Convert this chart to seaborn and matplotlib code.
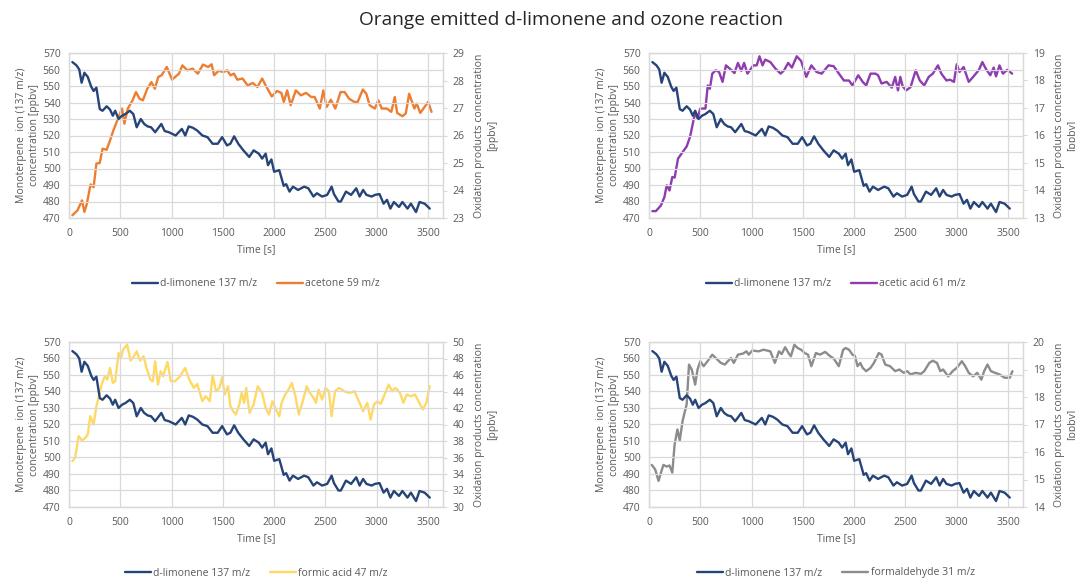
import matplotlib
matplotlib.use("Agg")
import matplotlib.pyplot as plt
import seaborn as sns
import pandas as pd

# ---------------- data ----------------
limonene_t = [33,73,100,123,150,183,217,240,267,300,
              327,367,400,427,450,483,517,550,593,627,
              660,700,733,767,800,840,900,933,973,1040,
              1100,1133,1167,1207,1250,1300,1350,1400,1450,1493,
              1540,1573,1610,1650,1700,1757,1800,1850,1883,1917,
              1940,1973,2000,2050,2093,2117,2150,2183,2233,2293,
              2333,2383,2417,2467,2517,2560,2583,2627,2650,2700,
              2750,2800,2833,2867,2900,2950,2983,3027,3067,3100,
              3133,3167,3217,3250,3300,3333,3383,3417,3467,3517]
limonene_v = [564.5,562.5,560,552,558,555.5,549.5,547,549,536,
              535,537.7,535.7,532,535,530,532,533,535,533,
              525,530,527,525.5,525,522,527,522.7,522,520,
              524,520,525.5,524.7,523,520,519,515,515,519,
              514,515,519.5,515,511,507,511,509,506,509,
              502,505.5,498,499,489.5,490.5,486,489,487,489,
              488,483,485,483,484,489,484.5,480,480,486,
              484,488,483,487,484,483,484,484.5,478.7,481,
              475.7,479.7,476.7,479.7,475.7,478.7,473.6,479.7,478.7,475.7]

acetone_t = [33,83,127,150,173,210,240,267,300,327,
             367,400,433,483,517,540,573,620,653,687,
             720,763,803,837,870,903,953,1005,1072,1105,
             1155,1205,1256,1306,1357,1390,1415,1457,1507,1541,
             1575,1608,1641,1692,1742,1792,1836,1883,1926,1977,
             2027,2070,2094,2127,2161,2211,2261,2311,2362,2395,
             2445,2479,2512,2553,2596,2647,2687,2730,2781,2814,
             2864,2898,2931,2982,3015,3049,3099,3142,3176,3199,
             3250,3283,3316,3367,3390,3424,3467,3501,3534]
acetone_v = [23.1,23.28,23.64,23.22,23.5,24.22,24.12,24.98,25.0,25.52,
             25.48,25.82,26.19,26.67,26.98,26.43,26.98,27.28,27.58,27.34,
             27.28,27.7,27.94,27.7,28.13,28.19,28.49,28.03,28.25,28.55,
             28.37,28.43,28.25,28.58,28.49,28.59,28.19,28.35,28.31,28.37,
             28.19,28.25,28.03,28.07,27.82,27.91,27.76,28.07,27.76,27.42,
             27.62,27.55,27.22,27.64,27.1,27.64,27.46,27.55,27.4,27.4,
             26.98,27.64,27.04,27.3,26.98,27.58,27.58,27.34,27.22,27.22,
             27.67,27.52,27.1,26.98,27.28,26.98,26.98,26.86,27.4,26.82,
             26.7,26.8,27.52,26.98,27.16,26.82,27.04,27.22,26.86]

acetic_t = [33,67,117,150,173,200,227,250,283,317,
            340,367,400,427,450,473,500,550,573,593,
            617,650,683,717,750,800,833,867,900,927,
            960,1017,1050,1077,1107,1133,1183,1233,1283,1317,
            1357,1393,1440,1483,1533,1583,1633,1683,1750,1800,
            1840,1900,1950,1983,2040,2083,2117,2160,2207,2233,
            2267,2317,2367,2400,2427,2450,2473,2507,2550,2600,
            2640,2683,2727,2767,2817,2850,2900,2933,2973,3000,
            3027,3067,3117,3160,3217,3250,3283,3327,3360,3383,
            3417,3450,3493,3540]
acetic_v = [13.25,13.25,13.46,13.76,14.19,14.0,14.49,14.47,15.16,15.34,
            15.46,15.6,15.95,16.43,16.85,16.61,16.98,16.98,17.82,17.7,
            18.25,18.37,18.31,17.95,18.55,18.39,18.27,18.64,18.35,18.64,
            18.25,18.55,18.55,18.88,18.55,18.76,18.67,18.43,18.25,18.37,
            18.64,18.47,18.88,18.71,18.13,18.55,18.31,18.25,18.55,18.52,
            18.31,18.0,18.0,17.82,18.19,17.95,17.82,18.25,18.25,18.19,
            17.89,17.95,17.74,18.13,17.64,18.13,17.79,17.64,17.76,18.37,
            18.0,17.82,18.13,18.25,18.55,18.25,18.0,18.03,17.95,18.59,
            18.31,18.49,17.95,18.13,18.39,18.67,18.43,18.19,18.47,18.15,
            18.55,18.25,18.39,18.25]

formic_t = [33,60,93,127,160,183,207,240,267,293,
            317,350,373,400,427,450,483,507,527,567,
            600,633,660,693,727,760,793,817,840,867,
            893,917,960,993,1033,1083,1133,1173,1217,1250,
            1300,1333,1373,1400,1433,1467,1493,1517,1550,1573,
            1600,1627,1660,1683,1707,1727,1760,1800,1840,1883,
            1917,1950,1983,2017,2050,2073,2107,2140,2173,2207,
            2240,2283,2317,2350,2383,2407,2433,2467,2500,2533,
            2560,2593,2633,2683,2733,2783,2833,2867,2907,2940,
            2973,3007,3040,3083,3117,3150,3183,3227,3260,3293,
            3333,3373,3407,3450,3483,3517]
formic_v = [35.56,35.97,38.59,38.06,38.39,38.79,41.0,40.0,42.22,43.43,
            44.84,45.85,45.44,46.85,45.04,45.24,48.67,48.06,49.07,49.68,
            47.74,48.27,48.87,47.74,48.27,46.65,45.44,45.24,47.66,44.84,
            46.45,45.85,47.58,45.24,45.24,45.85,46.85,45.44,44.44,44.92,
            42.82,43.43,42.82,45.97,44.03,44.44,45.73,43.63,44.64,42.22,
            41.61,41.21,42.42,43.83,42.62,44.44,41.41,42.42,44.64,43.83,
            42.02,41.21,42.82,41.81,41.0,42.62,43.63,44.23,45.04,43.43,
            41.21,43.02,44.64,43.83,43.23,42.62,44.23,43.02,44.44,44.03,
            41.0,44.03,44.44,44.03,43.83,44.03,42.62,41.61,42.62,40.6,
            42.42,42.82,42.5,43.83,44.84,44.03,44.44,43.83,42.62,43.63,
            43.43,43.63,42.82,41.81,42.62,44.64]

formaldehyde_t = [27,60,93,117,140,173,200,227,250,277,
                  300,327,350,367,390,417,450,473,500,533,
                  583,617,650,700,740,773,800,827,867,917,
                  950,973,1007,1067,1117,1183,1227,1267,1293,1327,
                  1360,1383,1417,1450,1483,1517,1550,1583,1627,1667,
                  1717,1767,1800,1850,1893,1917,1950,1983,2007,2033,
                  2060,2083,2117,2160,2193,2240,2267,2303,2350,2400,
                  2440,2483,2517,2550,2600,2650,2683,2733,2767,2807,
                  2840,2867,2917,2960,3000,3050,3083,3117,3160,3200,
                  3240,3267,3300,3333,3373,3417,3467,3517,3543]
formaldehyde_v = [15.53,15.37,14.95,15.25,15.53,15.47,15.51,15.25,16.28,16.82,
                  16.42,17.12,17.48,17.73,19.18,19.0,18.45,19.0,19.3,19.12,
                  19.36,19.54,19.42,19.24,19.18,19.32,19.42,19.24,19.54,19.58,
                  19.66,19.54,19.69,19.66,19.72,19.66,19.24,19.66,19.56,19.81,
                  19.6,19.48,19.9,19.78,19.72,19.6,19.54,19.12,19.6,19.54,
                  19.64,19.48,19.4,19.12,19.72,19.78,19.72,19.54,19.5,19.12,
                  19.24,19.06,18.94,19.06,19.24,19.6,19.54,19.18,19.12,18.94,
                  19.0,18.88,18.94,18.82,18.88,18.84,18.94,19.24,19.32,19.24,
                  18.94,19.0,18.75,18.94,19.06,19.3,19.12,18.88,18.75,18.88,
                  18.63,18.94,19.18,18.94,18.88,18.82,18.7,18.7,18.94]

limonene_label = "d-limonene 137 m/z"
product_labels = ["acetone 59 m/z", "acetic acid 61 m/z", "formic acid 47 m/z", "formaldehyde 31 m/z"]
product_t = [acetone_t, acetic_t, formic_t, formaldehyde_t]
product_v = [acetone_v, acetic_v, formic_v, formaldehyde_v]
right_ranges = [(23, 29, 1), (13, 19, 1), (30, 50, 2), (14, 20, 1)]
title = "Orange emitted d-limonene and ozone reaction"

# ---------------- style ----------------
sns.set_theme(style="white")
plt.rcParams['font.family'] = ['Open Sans', 'DejaVu Sans']
TXT = "#595959"
GRID = "#d9d9d9"
LIMO_COLOR = "#264478"
PROD_COLORS = ["#ED7D31", "#8E3CB0", "#FFD966", "#8C8C8C"]
FS = 7.5

W, H = 1075, 579
fig = plt.figure(figsize=(W / 100, H / 100), dpi=100)
fig.patch.set_facecolor("white")

# axes boxes in pixels: (left, top, right, bottom)
boxes = [(69, 53, 443, 218), (649, 53, 1023, 218),
         (69, 342, 443, 507), (649, 342, 1023, 507)]
XMAX = 3646
legend_y = [284, 284, 573, 573]

for i, (l, t, r, b) in enumerate(boxes):
    ax = fig.add_axes([l / W, 1 - b / H, (r - l) / W, (b - t) / H])
    ax2 = ax.twinx()
    df_l = pd.DataFrame({"t": limonene_t, "v": limonene_v})
    df_p = pd.DataFrame({"t": product_t[i], "v": product_v[i]})
    sns.lineplot(data=df_l, x="t", y="v", ax=ax, color=LIMO_COLOR, linewidth=1.7,
                 label=limonene_label, legend=False)
    sns.lineplot(data=df_p, x="t", y="v", ax=ax2, color=PROD_COLORS[i], linewidth=1.7,
                 label=product_labels[i], legend=False)

    ax.set_xlim(0, XMAX)
    ax.set_ylim(470, 570)
    ax.set_yticks(range(470, 571, 10))
    ax.set_xticks(range(0, 3501, 500))
    lo, hi, st = right_ranges[i]
    ax2.set_ylim(lo, hi)
    ax2.set_yticks(list(range(lo, hi + 1, st)))

    ax.grid(True, color=GRID, linewidth=0.9)
    ax2.grid(False)
    for a in (ax, ax2):
        for s in a.spines.values():
            s.set_color(GRID)
            s.set_linewidth(0.9)
    ax.tick_params(axis="y", length=0, labelsize=FS, labelcolor=TXT, pad=6)
    ax.tick_params(axis="x", length=0, labelsize=FS, labelcolor=TXT, pad=7)
    ax2.tick_params(axis="y", length=3, width=0.8, color=GRID, direction="out",
                    labelsize=FS, labelcolor=TXT, pad=4)
    ax.set_zorder(ax2.get_zorder() + 1)
    ax.patch.set_visible(False)

    ax.set_xlabel("Time [s]", fontsize=FS, color=TXT, labelpad=4)
    ax.set_ylabel("Monoterpene  ion (137 m/z)\nconcentration [ppbv]", fontsize=FS,
                  color=TXT, labelpad=2, linespacing=1.3)
    ax2.set_ylabel("Oxidation products concentration\n[ppbv]", fontsize=FS,
                   color=TXT, labelpad=7, linespacing=1.25)

    h1, l1 = ax.get_legend_handles_labels()
    h2, l2 = ax2.get_legend_handles_labels()
    cx = (l + r) / 2 / W
    fig.legend(h1 + h2, l1 + l2, loc="center", bbox_to_anchor=(cx, 1 - legend_y[i] / H),
               ncol=2, frameon=False, fontsize=FS, handlelength=2.5, columnspacing=1.9,
               handletextpad=0.2, labelcolor=TXT)

fig.text(571 / W, 1 - 20 / H, title, ha="center", va="center", fontsize=13.8, color="#262626")

fig.savefig("out.png", dpi=100, facecolor="white")
